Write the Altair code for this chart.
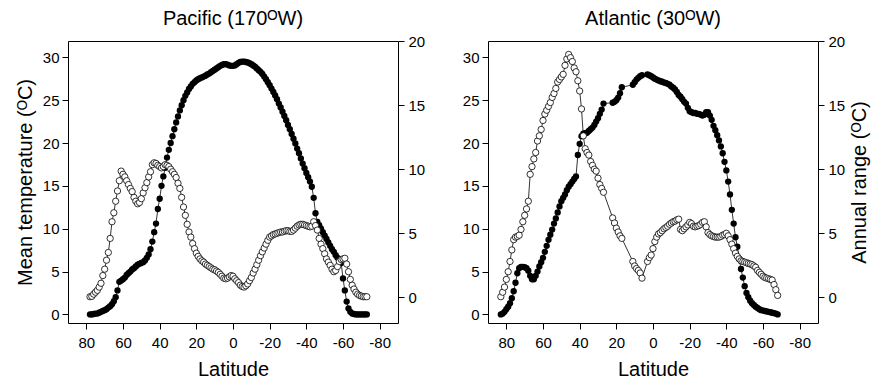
import altair as alt
import pandas as pd

FONT = "Liberation Sans"

# ---------------- Pacific (170 W) ----------------
pac_lat = [78, 77, 76, 75, 74, 73, 72, 71, 70, 69,
           68, 67, 66, 65, 64, 63, 62, 61, 60, 59,
           58, 57, 56, 55, 54, 53, 52, 51, 50, 49,
           48, 47, 46, 45, 44, 43, 42, 41, 40, 39,
           38, 37, 36, 35, 34, 33, 32, 31, 30, 29,
           28, 27, 26, 25, 24, 23, 22, 21, 20, 19,
           18, 17, 16, 15, 14, 13, 12, 11, 10, 9,
           8, 7, 6, 5, 4, 3, 2, 1, 0, -1,
           -2, -3, -4, -5, -6, -7, -8, -9, -10, -11,
           -12, -13, -14, -15, -16, -17, -18, -19, -20, -21,
           -22, -23, -24, -25, -26, -27, -28, -29, -30, -31,
           -32, -33, -34, -35, -36, -37, -38, -39, -40, -41,
           -42, -43, -44, -45, -46, -47, -48, -49, -50, -51,
           -52, -53, -54, -55, -56, -57, -58, -59, -60, -61,
           -62, -63, -64, -65, -66, -67, -68, -69, -70, -71,
           -72, -73]
pac_temp = [0.0, 0.0, 0.05, 0.1, 0.1, 0.2, 0.3, 0.4, 0.5, 0.6,
            0.8, 0.95, 1.2, 1.55, 2.0, 2.8, 3.8, 3.95, 4.1, 4.3,
            4.6, 4.8, 5.0, 5.25, 5.4, 5.6, 5.8, 5.9, 6.0, 6.1,
            6.3, 6.6, 7.0, 7.6, 8.5, 9.6, 10.6, 12.3, 13.5, 15.0,
            16.1, 17.1, 18.3, 19.2, 20.0, 20.8, 21.6, 22.4, 23.1, 23.8,
            24.4, 25.0, 25.5, 25.9, 26.3, 26.6, 26.9, 27.1, 27.3, 27.45,
            27.55, 27.65, 27.75, 27.85, 28.0, 28.1, 28.25, 28.4, 28.55, 28.7,
            28.85, 29.0, 29.1, 29.2, 29.2, 29.15, 29.05, 29.0, 29.0, 29.05,
            29.2, 29.35, 29.45, 29.5, 29.5, 29.45, 29.4, 29.3, 29.2, 29.05,
            28.9, 28.7, 28.5, 28.3, 28.05, 27.75, 27.45, 27.1, 26.75, 26.35,
            25.95, 25.55, 25.1, 24.6, 24.15, 23.65, 23.15, 22.65, 22.1, 21.6,
            21.05, 20.5, 19.95, 19.35, 18.8, 18.2, 17.6, 17.05, 16.5, 16.0,
            15.5, 14.9, 13.6, 11.8, 10.8, 10.4, 10.0, 9.6, 9.2, 8.8,
            8.4, 8.0, 7.6, 7.3, 6.9, 6.6, 6.3, 6.0, 4.2, 2.8,
            1.5, 0.7, 0.3, 0.1, 0.05, 0.0, 0.0, 0.0, 0.0, 0.0,
            0.0, 0.0]
pac_range = [0.05, 0.08, 0.25, 0.4, 0.55, 0.8, 1.1, 1.7, 2.2, 2.9,
             3.5, 4.6, 5.9, 6.6, 7.5, 8.3, 9.1, 9.85, 9.6, 9.4,
             9.1, 8.8, 8.5, 8.25, 7.8, 7.5, 7.3, 7.4, 7.7, 8.15,
             8.55, 8.95, 9.4, 9.8, 10.35, 10.5, 10.45, 10.3, 10.2, 10.1,
             10.2, 10.35, 10.3, 10.2, 10.0, 9.8, 9.6, 9.35, 8.9, 8.5,
             7.8, 7.05, 6.4, 5.7, 5.1, 4.7, 4.2, 3.8, 3.45, 3.2,
             3.0, 2.85, 2.75, 2.6, 2.5, 2.4, 2.3, 2.2, 2.15, 2.05,
             1.95, 1.8, 1.65, 1.5, 1.45, 1.5, 1.6, 1.7, 1.65, 1.45,
             1.3, 1.15, 0.95, 0.85, 0.8, 0.9, 1.05, 1.3, 1.55, 1.9,
             2.2, 2.55, 2.9, 3.25, 3.55, 3.85, 4.15, 4.45, 4.7, 4.8,
             4.9, 4.95, 5.0, 5.05, 5.1, 5.1, 5.15, 5.2, 5.2, 5.15,
             5.15, 5.25, 5.4, 5.55, 5.65, 5.7, 5.7, 5.65, 5.6, 5.55,
             5.5, 5.55, 5.9, 5.6, 5.25, 4.6, 4.15, 3.8, 3.4, 3.0,
             2.75, 2.5, 2.2, 2.0, 2.1, 2.4, 2.8, 2.95, 3.0, 3.05,
             2.6, 2.0, 1.4, 0.95, 0.65, 0.4, 0.25, 0.15, 0.1, 0.05,
             0.05, 0.05]

# ---------------- Atlantic (30 W) ----------------
atl_lat = [83, 82, 81, 80, 79, 78, 77, 76, 75, 74,
           73, 72, 71, 70, 69, 68, 67, 66, 65, 64,
           63, 62, 61, 60, 59, 58, 57, 56, 55, 54,
           53, 52, 51, 50, 49, 48, 47, 46, 45, 44,
           43, 42, 41, 40, 39, 38, 37, 36, 35, 34,
           33, 32, 31, 30, 29, 28, 27,
           22, 21, 20, 19, 18, 17,
           11, 10, 9, 8, 7, 6,
           3, 2, 1, 0, -1, -2, -3, -4, -5, -6,
           -7, -8, -9, -10, -11, -12, -13, -14, -15, -16,
           -17, -18, -19, -20, -21, -22, -23, -24, -25, -26,
           -27, -28, -29, -30, -31, -32, -33, -34, -35, -36,
           -37, -38, -39, -40, -41, -42, -43, -44, -45, -46,
           -47, -48, -49, -50, -51, -52, -53, -54, -55, -56,
           -57, -58, -59, -60, -61, -62, -63, -64, -65, -66,
           -67, -68]
atl_temp = [0.0, 0.1, 0.3, 0.6, 0.9, 1.3, 1.9, 2.7, 3.7, 4.8,
            5.4, 5.55, 5.55, 5.5, 5.4, 5.1, 4.5, 4.1, 4.1, 4.5,
            5.0, 5.6, 6.1, 6.6, 7.3, 8.0, 8.7, 9.3, 9.9, 10.6,
            11.2, 11.9, 12.6, 13.2, 13.6, 14.0, 14.5, 14.9, 15.2, 15.5,
            15.8, 16.1, 18.6, 19.9, 20.8, 21.1, 21.15, 21.2, 21.4, 21.6,
            21.8, 22.1, 22.5, 22.9, 23.4, 23.9, 24.6,
            24.7, 24.8, 25.0, 25.3, 25.8, 26.5,
            26.8, 27.1, 27.4, 27.6, 27.8, 27.9,
            28.0, 27.9, 27.8, 27.65, 27.5, 27.4, 27.3, 27.2, 27.15, 27.05,
            27.0, 26.9, 26.8, 26.6, 26.45, 26.25, 25.95, 25.6, 25.4, 25.1,
            24.8, 24.6, 24.1, 23.7, 23.6, 23.5, 23.5, 23.4, 23.4, 23.3,
            23.2, 23.3, 23.6, 23.6, 23.2, 22.7, 22.0, 21.5, 20.9, 20.3,
            19.6, 18.8, 17.8, 16.8, 15.5, 14.0, 12.2, 10.6, 9.0, 7.9,
            6.5, 5.3, 4.3, 3.3, 2.5, 2.0, 1.6, 1.3, 1.1, 0.9,
            0.75, 0.6, 0.5, 0.45, 0.4, 0.35, 0.3, 0.25, 0.2, 0.15,
            0.1, 0.0]
atl_range = [0.05, 0.4, 0.8, 1.4, 2.0, 2.8, 3.7, 4.5, 4.7, 4.75,
             4.85, 5.3, 5.9, 6.4, 6.9, 7.5, 9.6, 10.2, 10.8, 11.3,
             12.2, 12.6, 13.1, 13.8, 14.3, 14.6, 14.9, 15.2, 15.6, 15.9,
             16.3, 16.8, 17.0, 17.2, 17.4, 18.1, 18.6, 18.95, 18.7, 18.4,
             17.9, 17.6, 16.9, 16.1, 14.7, 12.6, 11.6, 11.3, 11.1, 10.6,
             10.3, 10.0, 9.85, 9.3, 8.8, 8.5, 8.2,
             6.2, 5.8, 5.4, 5.1, 4.8, 4.6,
             2.8, 2.45, 2.25, 2.1, 1.9, 1.5,
             2.8, 3.1, 3.3, 3.8, 4.35, 4.7, 4.95, 5.05, 5.2, 5.35,
             5.45, 5.55, 5.7, 5.8, 5.9, 5.95, 6.05, 6.1, 5.3, 5.2,
             5.35, 5.5, 5.65, 5.85, 5.75, 5.55, 5.5, 5.55, 5.6, 5.7,
             5.85, 5.9, 5.5, 5.05, 4.9, 4.8, 4.75, 4.7, 4.7, 4.7,
             4.75, 4.85, 4.9, 5.0, 4.8, 4.5, 4.15, 3.8, 3.45, 3.2,
             3.0, 2.85, 2.8, 2.75, 2.7, 2.65, 2.6, 2.55, 2.45, 2.35,
             2.1, 1.95, 1.8, 1.65, 1.55, 1.5, 1.45, 1.4, 1.35, 1.0,
             0.6, 0.15]

x_ticks = [80, 60, 40, 20, 0, -20, -40, -60, -80]
temp_ticks = [0, 5, 10, 15, 20, 25, 30]
range_ticks = [0, 5, 10, 15, 20]

W, H = 330, 282
LABEL_EXPR = "'' + datum.value"


def panel(lat, temp, rng, title, left_title, right_title):
    df = pd.DataFrame({"lat": lat, "temp": temp, "rng": rng})
    base = alt.Chart(df)
    x = alt.X("lat:Q",
              scale=alt.Scale(domain=[90, -90], nice=False, zero=False),
              axis=alt.Axis(values=x_ticks, title="Latitude", labelExpr=LABEL_EXPR,
                            labelPadding=6, titlePadding=9))
    y_t = alt.Y("temp:Q",
                scale=alt.Scale(domain=[-1.0, 31.9], nice=False, zero=False),
                axis=alt.Axis(values=temp_ticks, orient="left", title=left_title,
                              labelPadding=3, titlePadding=7))
    y_r = alt.Y("rng:Q",
                scale=alt.Scale(domain=[-2.0, 20.0], nice=False, zero=False),
                axis=alt.Axis(values=range_ticks, orient="right", title=right_title,
                              titleAngle=270, labelPadding=4, titlePadding=25))
    t_line = base.mark_line(color="black", strokeWidth=0.8).encode(x=x, y=y_t)
    t_pts = base.mark_point(shape="circle", filled=True, color="black", size=40,
                            opacity=1).encode(x=x, y=y_t)
    r_line = base.mark_line(color="black", strokeWidth=0.8).encode(x=x, y=y_r)
    r_pts = base.mark_point(shape="circle", filled=True, fill="white", stroke="black",
                            strokeWidth=0.8, size=40, opacity=1).encode(x=x, y=y_r)
    ttl = alt.Chart(pd.DataFrame({"t": [title]})).mark_text(
        font=FONT, fontSize=20, align="center", baseline="alphabetic", color="black"
    ).encode(text="t:N", x=alt.value(W / 2), y=alt.value(-16.5))
    return alt.layer(alt.layer(t_line, t_pts), alt.layer(r_line, r_pts), ttl).resolve_scale(
        y="independent").properties(width=W, height=H)


left = panel(pac_lat, pac_temp, pac_range, "Pacific (170ᴼW)", "Mean temperature (ᴼC)", None)
right = panel(atl_lat, atl_temp, atl_range, "Atlantic (30ᴼW)", None, "Annual range (ᴼC)")

chart = alt.hconcat(left, right, spacing=90, bounds="flush").properties(
    padding={"left": 14, "top": 8, "right": 0, "bottom": 0}
).configure_axis(
    labelFont=FONT, labelFontSize=15, labelColor="black",
    titleFont=FONT, titleFontSize=20, titleFontWeight="normal", titleColor="black",
    tickColor="black", tickSize=6, tickWidth=1, grid=False, domain=False,
).configure_view(stroke="black", strokeWidth=1)

chart.save("out.html", embed_options={"renderer": "svg", "actions": False})
